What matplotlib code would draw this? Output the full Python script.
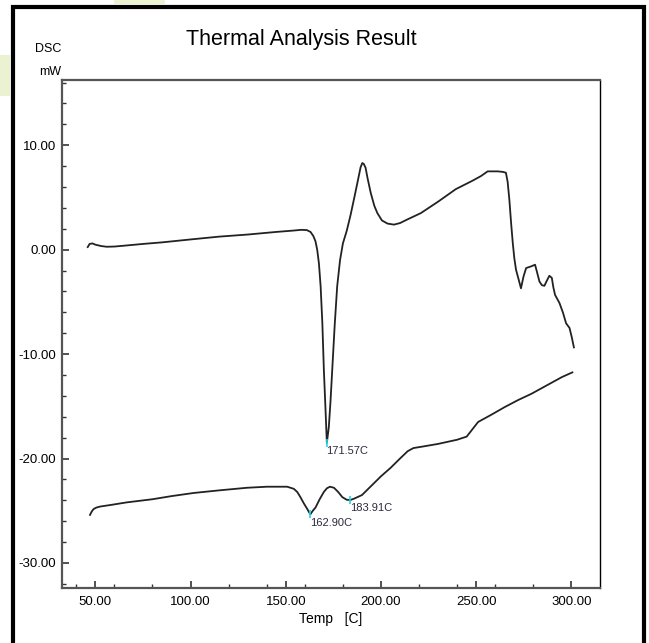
import matplotlib
matplotlib.use('Agg')
import matplotlib.pyplot as plt
from matplotlib import font_manager
from matplotlib.lines import Line2D
from matplotlib.patches import Rectangle
from matplotlib.ticker import MultipleLocator, FormatStrFormatter

# DSC traces: temperature [C] and heat flow [mW]
upper_t = [46.0, 47.0, 48.5, 50.0, 53.0, 56.0, 60.0, 65.0, 75.0, 85.0, 100.0, 115.0,
           130.0, 145.0, 154.0, 158.0, 161.0, 163.0, 164.5, 165.6, 166.5, 167.4, 168.3,
           169.2, 170.0, 170.8, 171.57, 172.6, 173.5, 174.4, 175.7, 177.0, 178.5, 180.0,
           182.0, 184.0, 186.0, 187.6, 189.3, 190.2, 191.0, 191.9, 193.0, 194.6, 196.5,
           198.1, 200.5, 203.4, 206.8, 210.0, 213.9, 220.9, 230.0, 239.3, 248.0, 252.5,
           256.0, 261.3, 264.0, 265.6, 266.5, 267.4, 268.3, 269.2, 270.0, 270.9, 272.2,
           273.5, 274.8, 276.2, 278.8, 280.9, 282.0, 283.2, 284.5, 285.8, 287.0, 288.4,
           289.7, 290.5, 291.4, 293.7, 295.5, 297.2, 299.0, 300.2, 301.3]
upper_v = [0.25, 0.55, 0.6, 0.48, 0.35, 0.28, 0.3, 0.38, 0.55, 0.7, 0.98, 1.25,
           1.45, 1.7, 1.83, 1.9, 1.88, 1.7, 1.3, 0.8, 0.0, -1.3, -3.5,
           -7.0, -11.5, -15.0, -18.5, -17.0, -14.5, -11.5, -7.2, -3.5, -1.0, 0.6,
           1.8, 3.3, 5.0, 6.4, 7.9, 8.3, 8.2, 7.85, 6.8, 5.45, 4.2,
           3.5, 2.8, 2.5, 2.4, 2.55, 2.9, 3.5, 4.6, 5.8, 6.6, 7.05,
           7.5, 7.5, 7.45, 7.37, 6.5, 4.8, 2.6, 0.64, -0.8, -1.92, -2.8,
           -3.7, -2.6, -1.76, -1.6, -1.44, -2.2, -3.05, -3.4, -3.46, -3.0, -2.5,
           -2.7, -3.6, -4.33, -5.1, -6.0, -7.05, -7.5, -8.4, -9.36]

lower_t = [47.2, 48.2, 49.1, 50.5, 52.5, 58.0, 66.5, 80.0, 90.0, 101.6, 115.0, 129.7,
           140.2, 150.7, 154.2, 156.0, 157.7, 159.5, 161.3, 162.9, 164.2, 165.6, 167.8,
           170.0, 171.6, 173.2, 175.3, 177.5, 179.7, 182.0, 183.91, 185.8, 187.6, 190.0,
           195.0, 200.0, 205.0, 210.0, 214.0, 217.0, 222.0, 230.0, 240.0, 245.0, 248.0,
           251.0, 258.0, 265.0, 272.0, 279.0, 287.0, 295.0, 300.5]
lower_v = [-25.4, -25.05, -24.84, -24.7, -24.6, -24.45, -24.2, -23.9, -23.6, -23.3, -23.05, -22.8,
           -22.7, -22.7, -22.9, -23.2, -23.7, -24.3, -24.84, -25.35, -25.0, -24.7, -23.9,
           -23.2, -22.85, -22.7, -22.8, -23.2, -23.7, -23.95, -23.97, -23.85, -23.7, -23.5,
           -22.6, -21.7, -20.9, -20.0, -19.3, -19.0, -18.85, -18.6, -18.2, -17.9, -17.2,
           -16.5, -15.8, -15.07, -14.4, -13.8, -13.0, -12.2, -11.75]

# picked peaks
peak_t = [171.57, 162.90, 183.91]
peak_v = [-18.5, -25.35, -23.97]
peak_labels = ['171.57C', '162.90C', '183.91C']

installed = {f.name for f in font_manager.fontManager.ttflist}
font = 'Liberation Sans Narrow' if 'Liberation Sans Narrow' in installed else 'Liberation Sans'
plt.rcParams['font.family'] = [font, 'DejaVu Sans']

fig = plt.figure(figsize=(6.49, 6.43), dpi=100)
fig.patch.set_facecolor('white')

# faint green scraps behind the frame
fig.add_artist(Rectangle((0.0, 0.85), 0.015, 0.065, transform=fig.transFigure,
                         color='#eaf2d2', lw=0, zorder=0))
fig.add_artist(Rectangle((0.175, 0.994), 0.08, 0.006, transform=fig.transFigure,
                         color='#eaf2d2', lw=0, zorder=0))

# heavy outer frame (open at the bottom)
fx0, fx1, fy = 13.0 / 649, 643.7 / 649, 1 - 6.7 / 643
fig.add_artist(Line2D([fx0, fx0, fx1, fx1], [-0.01, fy, fy, -0.01],
                      transform=fig.transFigure, color='black', lw=3.0,
                      solid_joinstyle='miter'))

ax = fig.add_axes([62 / 649, 1 - 588 / 643, 538 / 649, 508 / 643])
ax.plot(upper_t, upper_v, color='#222222', lw=1.3)
ax.plot(lower_t, lower_v, color='#222222', lw=1.3)

ax.plot(peak_t, peak_v, linestyle='none', marker='|', color='#22d8e8',
        markersize=6, markeredgewidth=1.2)
for t, v, lab in zip(peak_t, peak_v, peak_labels):
    ax.annotate(lab, xy=(t, v), xytext=(-0.5, -2.5), textcoords='offset points',
                ha='left', va='top', fontsize=8, color='#2b2b3c')

ax.set_xlim(32.5, 315)
ax.set_ylim(-32.4, 16.25)
ax.xaxis.set_major_locator(MultipleLocator(50))
ax.xaxis.set_minor_locator(MultipleLocator(20))
ax.yaxis.set_major_locator(MultipleLocator(10))
ax.yaxis.set_minor_locator(MultipleLocator(2))
ax.xaxis.set_major_formatter(FormatStrFormatter('%.2f'))
ax.yaxis.set_major_formatter(FormatStrFormatter('%.2f'))
ax.tick_params(which='both', direction='in', top=False, right=False,
               labelsize=9.5, color='#333333', pad=4)
ax.tick_params(axis='x', pad=6)
ax.tick_params(which='major', length=5, width=1.2)
ax.tick_params(which='minor', length=3, width=1.0)

for side in ['left', 'bottom', 'top']:
    ax.spines[side].set_color('#555555')
    ax.spines[side].set_linewidth(1.6)
ax.spines['right'].set_color('black')
ax.spines['right'].set_linewidth(1.0)

ax.set_xlabel('Temp   [C]', fontsize=10, labelpad=3)
fig.text(301 / 649, 1 - 40 / 643, 'Thermal Analysis Result', ha='center', va='center',
         fontsize=15.5)
fig.text(61 / 649, 1 - 49 / 643, 'DSC', ha='right', va='center', fontsize=9)
fig.text(61 / 649, 1 - 72 / 643, 'mW', ha='right', va='center', fontsize=9)

fig.savefig('out.png', dpi=100, facecolor='white')
